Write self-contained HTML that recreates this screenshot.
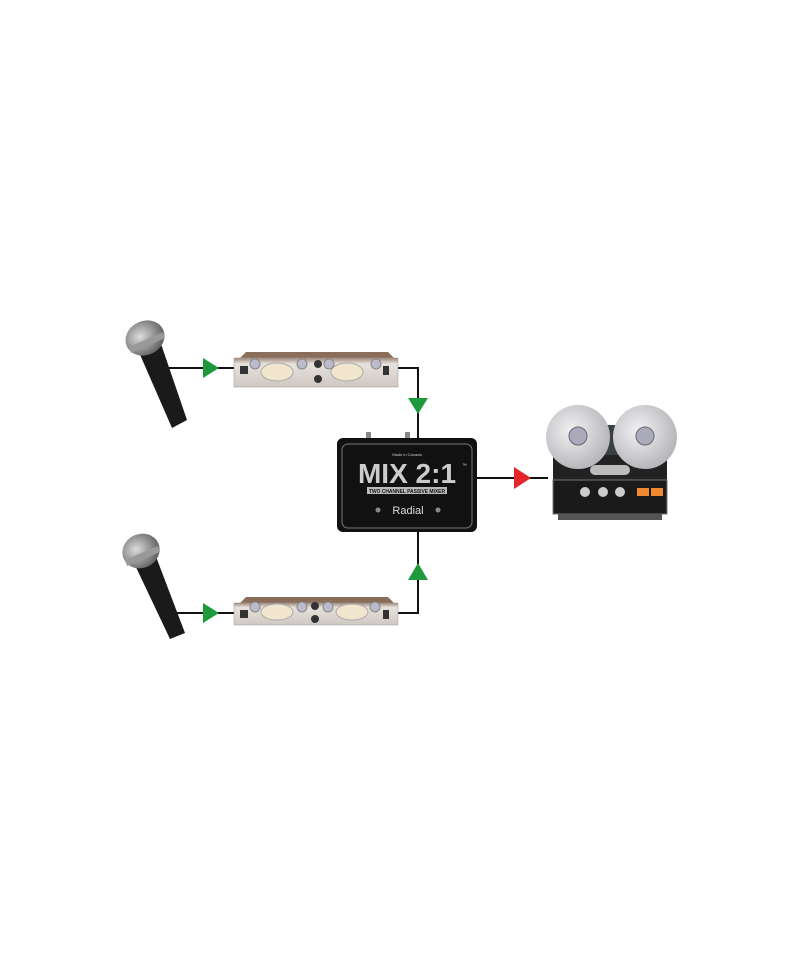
<!DOCTYPE html>
<html><head><style>body{margin:0;background:#fff}svg{display:block}</style></head>
<body>
<svg width="800" height="960" viewBox="0 0 800 960" xmlns="http://www.w3.org/2000/svg" font-family="Liberation Sans, sans-serif">
<defs>
<linearGradient id="rack" x1="0" y1="0" x2="0" y2="1"><stop offset="0" stop-color="#a08878"/><stop offset="0.2" stop-color="#e8e2dc"/><stop offset="1" stop-color="#cfc8c2"/></linearGradient>
<radialGradient id="reel" cx="0.4" cy="0.4" r="0.6"><stop offset="0" stop-color="#f2f2f4"/><stop offset="1" stop-color="#b8b8bc"/></radialGradient>
<radialGradient id="mesh" cx="0.4" cy="0.4" r="0.6"><stop offset="0" stop-color="#ddd"/><stop offset="1" stop-color="#666"/></radialGradient>
<linearGradient id="body" x1="0" y1="0" x2="1" y2="0"><stop offset="0" stop-color="#111"/><stop offset="0.5" stop-color="#444"/><stop offset="1" stop-color="#111"/></linearGradient>
</defs>
<g stroke="#111" stroke-width="2" fill="none">
<path d="M160 368 H236"/><path d="M397 368 H418 V438"/>
<path d="M160 613 H234"/><path d="M397 613 H418 V532"/>
<path d="M477 478 H548"/>
</g>
<g fill="#1e9a3c">
<polygon points="203,358 203,378 219,368"/>
<polygon points="203,603 203,623 219,613"/>
<polygon points="408,398 428,398 418,414"/>
<polygon points="408,580 428,580 418,563"/>
</g>
<polygon points="514,467 514,489 531,478" fill="#e3262b"/>
<!-- mics -->
<g>
<polygon points="138,350 160,341 187,420 172,428" fill="#1a1a1a"/>
<ellipse cx="145" cy="338" rx="20" ry="17" fill="url(#mesh)" transform="rotate(-25 145 338)"/>
<polygon points="129,347 163,332 165,338 131,353" fill="#999"/>
<polygon points="134,563 155,554 185,633 170,639" fill="#1a1a1a"/>
<ellipse cx="141" cy="551" rx="19" ry="17" fill="url(#mesh)" transform="rotate(-25 141 551)"/>
<polygon points="125,560 158,546 160,552 127,566" fill="#999"/>
</g>
<!-- preamps -->
<g>
<polygon points="240,358 246,352 388,352 394,358" fill="#8a6e5a"/>
<rect x="234" y="358" width="164" height="29" fill="url(#rack)" stroke="#999" stroke-width="0.5"/>
<ellipse cx="277" cy="372" rx="16" ry="9" fill="#f3e6cf" stroke="#aaa"/>
<ellipse cx="347" cy="372" rx="16" ry="9" fill="#f3e6cf" stroke="#aaa"/>
<circle cx="255" cy="364" r="5" fill="#bbc" stroke="#888"/><circle cx="302" cy="364" r="5" fill="#bbc" stroke="#888"/>
<circle cx="318" cy="364" r="4" fill="#333"/><circle cx="318" cy="379" r="4" fill="#333"/>
<circle cx="329" cy="364" r="5" fill="#bbc" stroke="#888"/><circle cx="376" cy="364" r="5" fill="#bbc" stroke="#888"/>
<rect x="240" y="366" width="8" height="8" fill="#333"/><rect x="383" y="366" width="6" height="9" fill="#333"/>
</g>
<g>
<polygon points="240,603 246,597 388,597 394,603" fill="#8a6e5a"/>
<rect x="234" y="603" width="164" height="22" fill="url(#rack)" stroke="#999" stroke-width="0.5"/>
<ellipse cx="277" cy="612" rx="16" ry="8" fill="#f3e6cf" stroke="#aaa"/>
<ellipse cx="352" cy="612" rx="16" ry="8" fill="#f3e6cf" stroke="#aaa"/>
<circle cx="255" cy="607" r="5" fill="#bbc" stroke="#888"/><circle cx="302" cy="607" r="5" fill="#bbc" stroke="#888"/>
<circle cx="315" cy="606" r="4" fill="#333"/><circle cx="315" cy="619" r="4" fill="#333"/>
<circle cx="328" cy="607" r="5" fill="#bbc" stroke="#888"/><circle cx="375" cy="607" r="5" fill="#bbc" stroke="#888"/>
<rect x="240" y="610" width="8" height="8" fill="#333"/><rect x="383" y="610" width="6" height="9" fill="#333"/>
</g>
<!-- mixer -->
<rect x="366" y="432" width="5" height="8" fill="#888"/><rect x="405" y="432" width="5" height="8" fill="#888"/>
<rect x="337" y="438" width="140" height="94" rx="6" fill="#111"/>
<rect x="342" y="444" width="130" height="84" rx="6" fill="none" stroke="#777" stroke-width="1"/>
<text x="407" y="456" font-size="4" fill="#ccc" text-anchor="middle">Made in Canada</text>
<text x="407" y="483" font-size="28" font-weight="bold" fill="#ccc" text-anchor="middle">MIX 2:1</text>
<text x="462" y="467" font-size="5" fill="#ccc">™</text>
<rect x="367" y="487" width="80" height="7" fill="#bbb"/>
<text x="407" y="493" font-size="5.5" font-weight="bold" fill="#111" text-anchor="middle" textLength="76" lengthAdjust="spacingAndGlyphs">TWO CHANNEL PASSIVE MIXER</text>
<text x="408" y="514" font-size="11" fill="#ddd" text-anchor="middle">Radial</text>
<circle cx="378" cy="510" r="2.5" fill="#888"/><circle cx="438" cy="510" r="2.5" fill="#888"/>
<!-- tape deck -->
<rect x="558" y="425" width="104" height="32" fill="#3a3f40"/>
<rect x="553" y="455" width="114" height="55" fill="#222"/>
<rect x="553" y="480" width="114" height="34" fill="#1a1a1a" stroke="#777" stroke-width="1"/>
<circle cx="578" cy="437" r="32" fill="url(#reel)"/>
<circle cx="645" cy="437" r="32" fill="url(#reel)"/>
<circle cx="578" cy="436" r="9" fill="#aab" stroke="#667"/><circle cx="645" cy="436" r="9" fill="#aab" stroke="#667"/>
<rect x="590" y="465" width="40" height="10" rx="5" fill="#bbb"/>
<circle cx="585" cy="492" r="5" fill="#ccc"/><circle cx="603" cy="492" r="5" fill="#ccc"/><circle cx="620" cy="492" r="5" fill="#ccc"/>
<rect x="637" y="488" width="12" height="8" fill="#f08a30"/><rect x="651" y="488" width="12" height="8" fill="#f08a30"/>
<rect x="558" y="514" width="104" height="6" fill="#555"/>
</svg>
</body></html>
